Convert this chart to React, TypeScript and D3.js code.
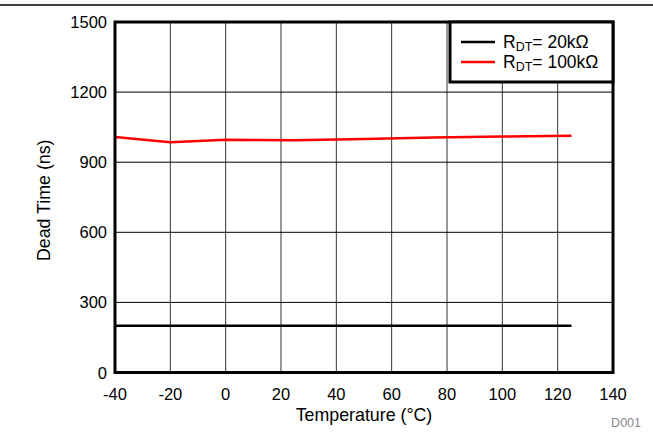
import React from "react";
import * as d3 from "d3";

const temps = [-40, -20, 0, 25, 50, 75, 100, 125];
const rdt20 = [200, 200, 200, 200, 200, 200, 200, 200];
const rdt100 = [1008, 985, 996, 994, 999, 1006, 1010, 1013];
const xTicks = [-40, -20, 0, 20, 40, 60, 80, 100, 120, 140];
const yTicks = [0, 300, 600, 900, 1200, 1500];
const series = [
  { name: "20kΩ", values: rdt20, color: "#000000" },
  { name: "100kΩ", values: rdt100, color: "#ff0000" },
];

const W = 653, H = 432;
const L = 115, R = 613, T = 22, B = 372.5;

export default function App() {
  const x = d3.scaleLinear().domain([-40, 140]).range([L, R]);
  const y = d3.scaleLinear().domain([0, 1500]).range([B, T]);
  const line = d3.line<number>().x((_, i) => x(temps[i])).y((v) => y(v));
  const font = "'Liberation Sans', Arial, sans-serif";
  return (
    <svg width={W} height={H} style={{ position: "absolute", left: 0, top: 0 }} fontFamily={font}>
      <rect width={W} height={H} fill="#fff" />
      <line x1={0} x2={W} y1={5} y2={5} stroke="#000" strokeWidth={1.5} />
      {xTicks.map((t) => (
        <line key={"gx" + t} x1={x(t)} x2={x(t)} y1={T} y2={B} stroke="#333" strokeWidth={1} />
      ))}
      {yTicks.map((t) => (
        <line key={"gy" + t} x1={L} x2={R} y1={y(t)} y2={y(t)} stroke="#000" strokeWidth={1} />
      ))}
      {series.map((s) => (
        <path key={s.name} d={line(s.values) || ""} fill="none" stroke={s.color} strokeWidth={2.5} />
      ))}
      <rect x={L} y={T} width={R - L} height={B - T} fill="none" stroke="#000" strokeWidth={3} />
      {xTicks.map((t) => (
        <text key={"tx" + t} x={x(t)} y={y(0) + 27} fontSize={16.5} textAnchor="middle" fill="#000">
          {t}
        </text>
      ))}
      {yTicks.map((t) => (
        <text key={"ty" + t} x={L - 8} y={y(t) + 6} fontSize={16.5} textAnchor="end" fill="#000">
          {t}
        </text>
      ))}
      <text x={364} y={421} fontSize={17.8} textAnchor="middle" fill="#000">Temperature (°C)</text>
      <text transform={`translate(50,${(T + B) / 2 + 3}) rotate(-90)`} fontSize={17.8} textAnchor="middle" fill="#000">
        Dead Time (ns)
      </text>
      <text x={641} y={427} fontSize={12.5} textAnchor="end" fill="#888">D001</text>
      <rect x={450} y={T} width={R - 450} height={60} fill="#fff" stroke="#000" strokeWidth={3} />
      {series.map((s, i) => (
        <g key={"lg" + s.name}>
          <line x1={461} x2={495} y1={42 + i * 20} y2={42 + i * 20} stroke={s.color} strokeWidth={2.5} />
          <text x={503} y={48 + i * 20} fontSize={17.5} fill="#000">
            R<tspan fontSize={12.5} dy={3}>DT</tspan><tspan dy={-3}>= {s.name}</tspan>
          </text>
        </g>
      ))}
    </svg>
  );
}
